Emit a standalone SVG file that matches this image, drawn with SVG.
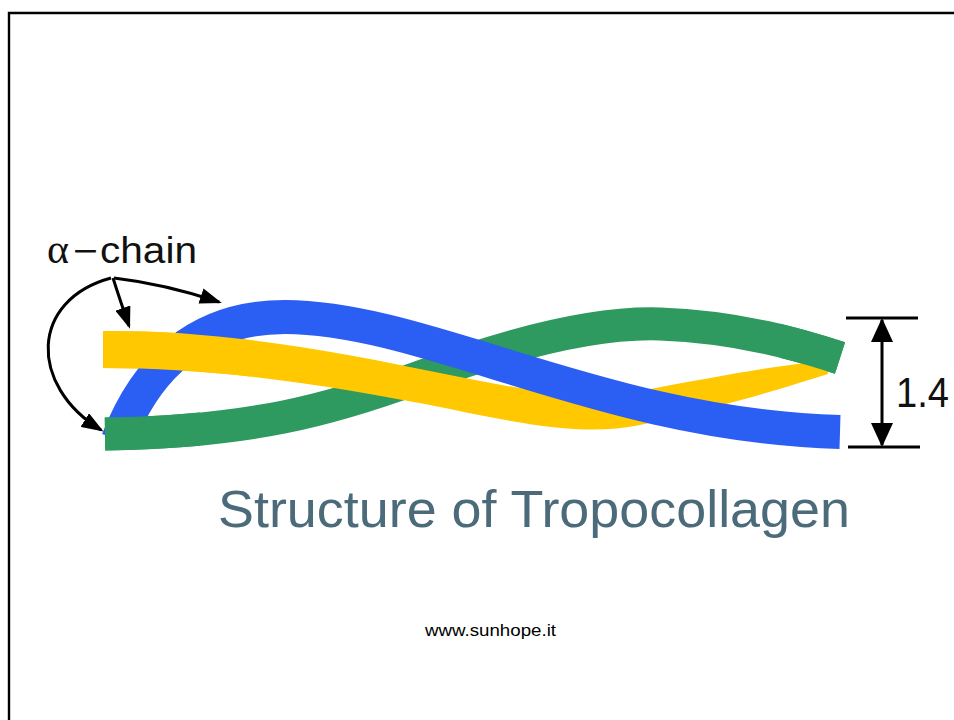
<svg xmlns="http://www.w3.org/2000/svg" xmlns:xlink="http://www.w3.org/1999/xlink" width="954" height="720" viewBox="0 0 954 720">
  <style>
    .frame { fill: none; stroke: #000; stroke-width: 2.4; }
    .strand { fill: none; stroke-linecap: butt; }
    .blue { stroke: #2b5ef2; stroke-width: 34; }
    .green { stroke: #2e9a60; stroke-width: 33; }
    .yellow { fill: #ffc800; }
    .ptr { fill: none; stroke: #000; stroke-width: 3; }
    .dim { fill: none; stroke: #000; stroke-width: 3; }
    .lbl { font-family: "Liberation Sans", Arial, sans-serif; fill: #111; }
    .title { font-family: "Liberation Sans", Arial, sans-serif; font-size: 52px; fill: #4b6a7a; }
    .url { font-family: "Liberation Sans", Arial, sans-serif; font-size: 17px; fill: #000; }
  </style>
  <defs>
    <marker id="head" markerUnits="userSpaceOnUse" markerWidth="22" markerHeight="16" refX="19" refY="8" orient="auto">
      <path d="M0,0 L22,8 L0,16 Z" fill="#000"/>
    </marker>
    <marker id="dimHead" markerUnits="userSpaceOnUse" markerWidth="24" markerHeight="22" refX="22" refY="11" orient="auto-start-reverse">
      <path d="M0,0 L24,11 L0,22 Z" fill="#000"/>
    </marker>
    <!-- three strands of the triple helix -->
    <path id="greenStrand" class="strand green" d="M105,434 C250,432 330,410 420,377 C520,340 600,322 660,324 C740,327 800,345 840,358"/>
    <path id="blueStrand" class="strand blue" d="M118,440 C145,370 195,317 285,317 C430,318 600,425 840,432"/>
    <path id="yellowStrand" class="yellow" d="M103,331 C220,330 330,350 450,375 C540,393 590,401 640,391 C720,376 790,363 828,361 L828,374 C790,386 720,408 640,425 C590,435 540,428 450,409 C330,385 220,368 103,368 Z"/>
    <clipPath id="leftEnd"><rect x="0" y="0" width="250" height="720"/></clipPath>
    <clipPath id="leftGreen"><rect x="0" y="0" width="200" height="720"/></clipPath>
    <clipPath id="rightEnd"><rect x="780" y="0" width="174" height="720"/></clipPath>
  </defs>

  <rect width="954" height="720" fill="#fff"/>
  <path class="frame" d="M9,720 V13 H954"/>

  <!-- braid: base stacking, then the over-crossings at the ends -->
  <g id="helix">
    <use xlink:href="#greenStrand"/>
    <use xlink:href="#yellowStrand"/>
    <use xlink:href="#blueStrand"/>
    <use xlink:href="#yellowStrand" clip-path="url(#leftEnd)"/>
    <use xlink:href="#greenStrand" clip-path="url(#leftGreen)"/>
    <use xlink:href="#greenStrand" clip-path="url(#rightEnd)"/>
  </g>

  <g id="alpha-label">
    <text class="lbl" y="263" font-size="36">
      <tspan x="47" font-family="Liberation Serif, serif" font-size="42">α</tspan><tspan x="73" textLength="25" lengthAdjust="spacingAndGlyphs">−</tspan><tspan x="100" textLength="97" lengthAdjust="spacingAndGlyphs">chain</tspan>
    </text>
  </g>

  <g id="connectors">
    <path class="ptr" d="M113,278 Q120,300 129,326" marker-end="url(#head)"/>
    <path class="ptr" d="M114,278 Q165,284 219,302" marker-end="url(#head)"/>
    <path class="ptr" d="M111,278 C30,300 28,385 101,430" marker-end="url(#head)"/>
  </g>

  <g id="dimension">
    <line class="dim" x1="846" y1="318" x2="918" y2="318"/>
    <line class="dim" x1="848" y1="447" x2="920" y2="447"/>
    <line class="dim" x1="882" y1="320" x2="882" y2="445" marker-start="url(#dimHead)" marker-end="url(#dimHead)"/>
    <text class="lbl" x="896" y="407" font-size="42" textLength="53" lengthAdjust="spacingAndGlyphs">1.4</text>
  </g>

  <g id="caption">
    <text class="title" x="218" y="527" textLength="632" lengthAdjust="spacingAndGlyphs">Structure of Tropocollagen</text>
  </g>

  <text class="url" x="425" y="636" textLength="131" lengthAdjust="spacingAndGlyphs">www.sunhope.it</text>
</svg>
